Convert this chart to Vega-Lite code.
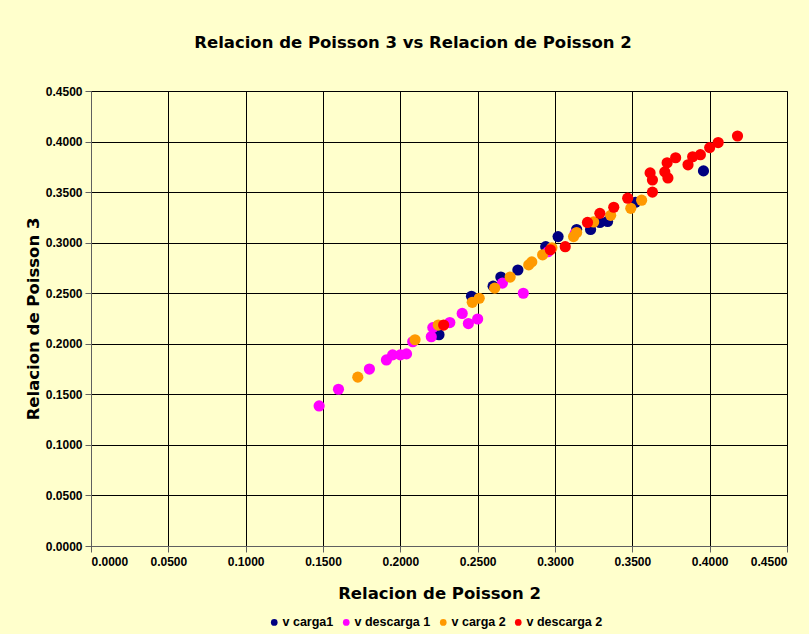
{
  "$schema": "https://vega.github.io/schema/vega-lite/v6.json",
  "width": 696,
  "height": 455,
  "autosize": {"type": "none"},
  "padding": {"left": 91, "top": 91, "right": 22, "bottom": 88},
  "background": "#FFFFCC",
  "title": {
    "text": "Relacion de Poisson 3 vs Relacion de Poisson 2",
    "font": "DejaVu Sans",
    "fontSize": 16.5,
    "fontWeight": "bold",
    "color": "#000000",
    "anchor": "middle",
    "offset": 34,
    "dx": -26
  },
  "config": {
    "view": {"stroke": "#606060", "strokeWidth": 1, "fill": "#FFFFCC"},
    "axis": {
      "labelFont": "Liberation Sans",
      "labelFontSize": 12,
      "labelFontWeight": "bold",
      "labelColor": "#000000",
      "titleFont": "DejaVu Sans",
      "titleFontSize": 16.5,
      "titleFontWeight": "bold",
      "titleColor": "#000000",
      "gridColor": "#000000",
      "gridOpacity": 1,
      "gridWidth": 1,
      "domainColor": "#606060",
      "tickColor": "#606060",
      "tickSize": 6
    }
  },
  "data": {
    "values": [
      {"x": 0.225, "y": 0.209, "s": "v carga1"},
      {"x": 0.246, "y": 0.247, "s": "v carga1"},
      {"x": 0.260, "y": 0.257, "s": "v carga1"},
      {"x": 0.265, "y": 0.266, "s": "v carga1"},
      {"x": 0.276, "y": 0.273, "s": "v carga1"},
      {"x": 0.294, "y": 0.296, "s": "v carga1"},
      {"x": 0.302, "y": 0.306, "s": "v carga1"},
      {"x": 0.314, "y": 0.313, "s": "v carga1"},
      {"x": 0.323, "y": 0.313, "s": "v carga1"},
      {"x": 0.329, "y": 0.320, "s": "v carga1"},
      {"x": 0.334, "y": 0.321, "s": "v carga1"},
      {"x": 0.352, "y": 0.340, "s": "v carga1"},
      {"x": 0.396, "y": 0.371, "s": "v carga1"},
      {"x": 0.1475, "y": 0.1385, "s": "v descarga 1"},
      {"x": 0.160, "y": 0.155, "s": "v descarga 1"},
      {"x": 0.180, "y": 0.175, "s": "v descarga 1"},
      {"x": 0.191, "y": 0.184, "s": "v descarga 1"},
      {"x": 0.195, "y": 0.189, "s": "v descarga 1"},
      {"x": 0.200, "y": 0.189, "s": "v descarga 1"},
      {"x": 0.204, "y": 0.190, "s": "v descarga 1"},
      {"x": 0.208, "y": 0.202, "s": "v descarga 1"},
      {"x": 0.220, "y": 0.207, "s": "v descarga 1"},
      {"x": 0.221, "y": 0.216, "s": "v descarga 1"},
      {"x": 0.232, "y": 0.221, "s": "v descarga 1"},
      {"x": 0.240, "y": 0.230, "s": "v descarga 1"},
      {"x": 0.244, "y": 0.220, "s": "v descarga 1"},
      {"x": 0.250, "y": 0.2245, "s": "v descarga 1"},
      {"x": 0.266, "y": 0.260, "s": "v descarga 1"},
      {"x": 0.2795, "y": 0.250, "s": "v descarga 1"},
      {"x": 0.2955, "y": 0.291, "s": "v descarga 1"},
      {"x": 0.313, "y": 0.309, "s": "v descarga 1"},
      {"x": 0.1725, "y": 0.167, "s": "v carga 2"},
      {"x": 0.2095, "y": 0.204, "s": "v carga 2"},
      {"x": 0.2245, "y": 0.2185, "s": "v carga 2"},
      {"x": 0.2465, "y": 0.241, "s": "v carga 2"},
      {"x": 0.251, "y": 0.245, "s": "v carga 2"},
      {"x": 0.261, "y": 0.255, "s": "v carga 2"},
      {"x": 0.271, "y": 0.266, "s": "v carga 2"},
      {"x": 0.283, "y": 0.278, "s": "v carga 2"},
      {"x": 0.285, "y": 0.281, "s": "v carga 2"},
      {"x": 0.292, "y": 0.288, "s": "v carga 2"},
      {"x": 0.298, "y": 0.295, "s": "v carga 2"},
      {"x": 0.312, "y": 0.306, "s": "v carga 2"},
      {"x": 0.314, "y": 0.310, "s": "v carga 2"},
      {"x": 0.325, "y": 0.3205, "s": "v carga 2"},
      {"x": 0.336, "y": 0.327, "s": "v carga 2"},
      {"x": 0.349, "y": 0.334, "s": "v carga 2"},
      {"x": 0.356, "y": 0.342, "s": "v carga 2"},
      {"x": 0.228, "y": 0.2185, "s": "v descarga 2"},
      {"x": 0.297, "y": 0.293, "s": "v descarga 2"},
      {"x": 0.3066, "y": 0.296, "s": "v descarga 2"},
      {"x": 0.321, "y": 0.320, "s": "v descarga 2"},
      {"x": 0.329, "y": 0.329, "s": "v descarga 2"},
      {"x": 0.338, "y": 0.335, "s": "v descarga 2"},
      {"x": 0.347, "y": 0.344, "s": "v descarga 2"},
      {"x": 0.363, "y": 0.350, "s": "v descarga 2"},
      {"x": 0.363, "y": 0.362, "s": "v descarga 2"},
      {"x": 0.3615, "y": 0.369, "s": "v descarga 2"},
      {"x": 0.371, "y": 0.370, "s": "v descarga 2"},
      {"x": 0.373, "y": 0.364, "s": "v descarga 2"},
      {"x": 0.3725, "y": 0.379, "s": "v descarga 2"},
      {"x": 0.378, "y": 0.384, "s": "v descarga 2"},
      {"x": 0.386, "y": 0.377, "s": "v descarga 2"},
      {"x": 0.389, "y": 0.385, "s": "v descarga 2"},
      {"x": 0.394, "y": 0.387, "s": "v descarga 2"},
      {"x": 0.400, "y": 0.394, "s": "v descarga 2"},
      {"x": 0.4055, "y": 0.399, "s": "v descarga 2"},
      {"x": 0.418, "y": 0.4055, "s": "v descarga 2"}
    ]
  },
  "mark": {"type": "point", "filled": true, "shape": "circle", "size": 125, "opacity": 1},
  "encoding": {
    "x": {
      "field": "x",
      "type": "quantitative",
      "title": "Relacion de Poisson 2",
      "scale": {"domain": [0, 0.45], "nice": false, "zero": false},
      "axis": {
        "values": [0, 0.05, 0.1, 0.15, 0.2, 0.25, 0.3, 0.35, 0.4, 0.45],
        "format": ".4f",
        "labelPadding": 4,
        "titlePadding": 18
      }
    },
    "y": {
      "field": "y",
      "type": "quantitative",
      "title": "Relacion de Poisson 3",
      "scale": {"domain": [0, 0.45], "nice": false, "zero": false},
      "axis": {
        "values": [0, 0.05, 0.1, 0.15, 0.2, 0.25, 0.3, 0.35, 0.4, 0.45],
        "format": ".4f",
        "labelPadding": 3,
        "titlePadding": 4
      }
    },
    "color": {
      "field": "s",
      "type": "nominal",
      "scale": {
        "domain": ["v carga1", "v descarga 1", "v carga 2", "v descarga 2"],
        "range": ["#000080", "#FF00FF", "#FF9900", "#FF0000"]
      },
      "legend": {
        "title": null,
        "orient": "none",
        "direction": "horizontal",
        "legendX": 177,
        "legendY": 525,
        "symbolType": "circle",
        "symbolSize": 45,
        "symbolOpacity": 1,
        "labelFont": "Liberation Sans",
        "labelFontSize": 12.5,
        "labelFontWeight": "bold",
        "labelColor": "#000000",
        "labelOffset": 2,
        "columnPadding": 6
      }
    }
  }
}
